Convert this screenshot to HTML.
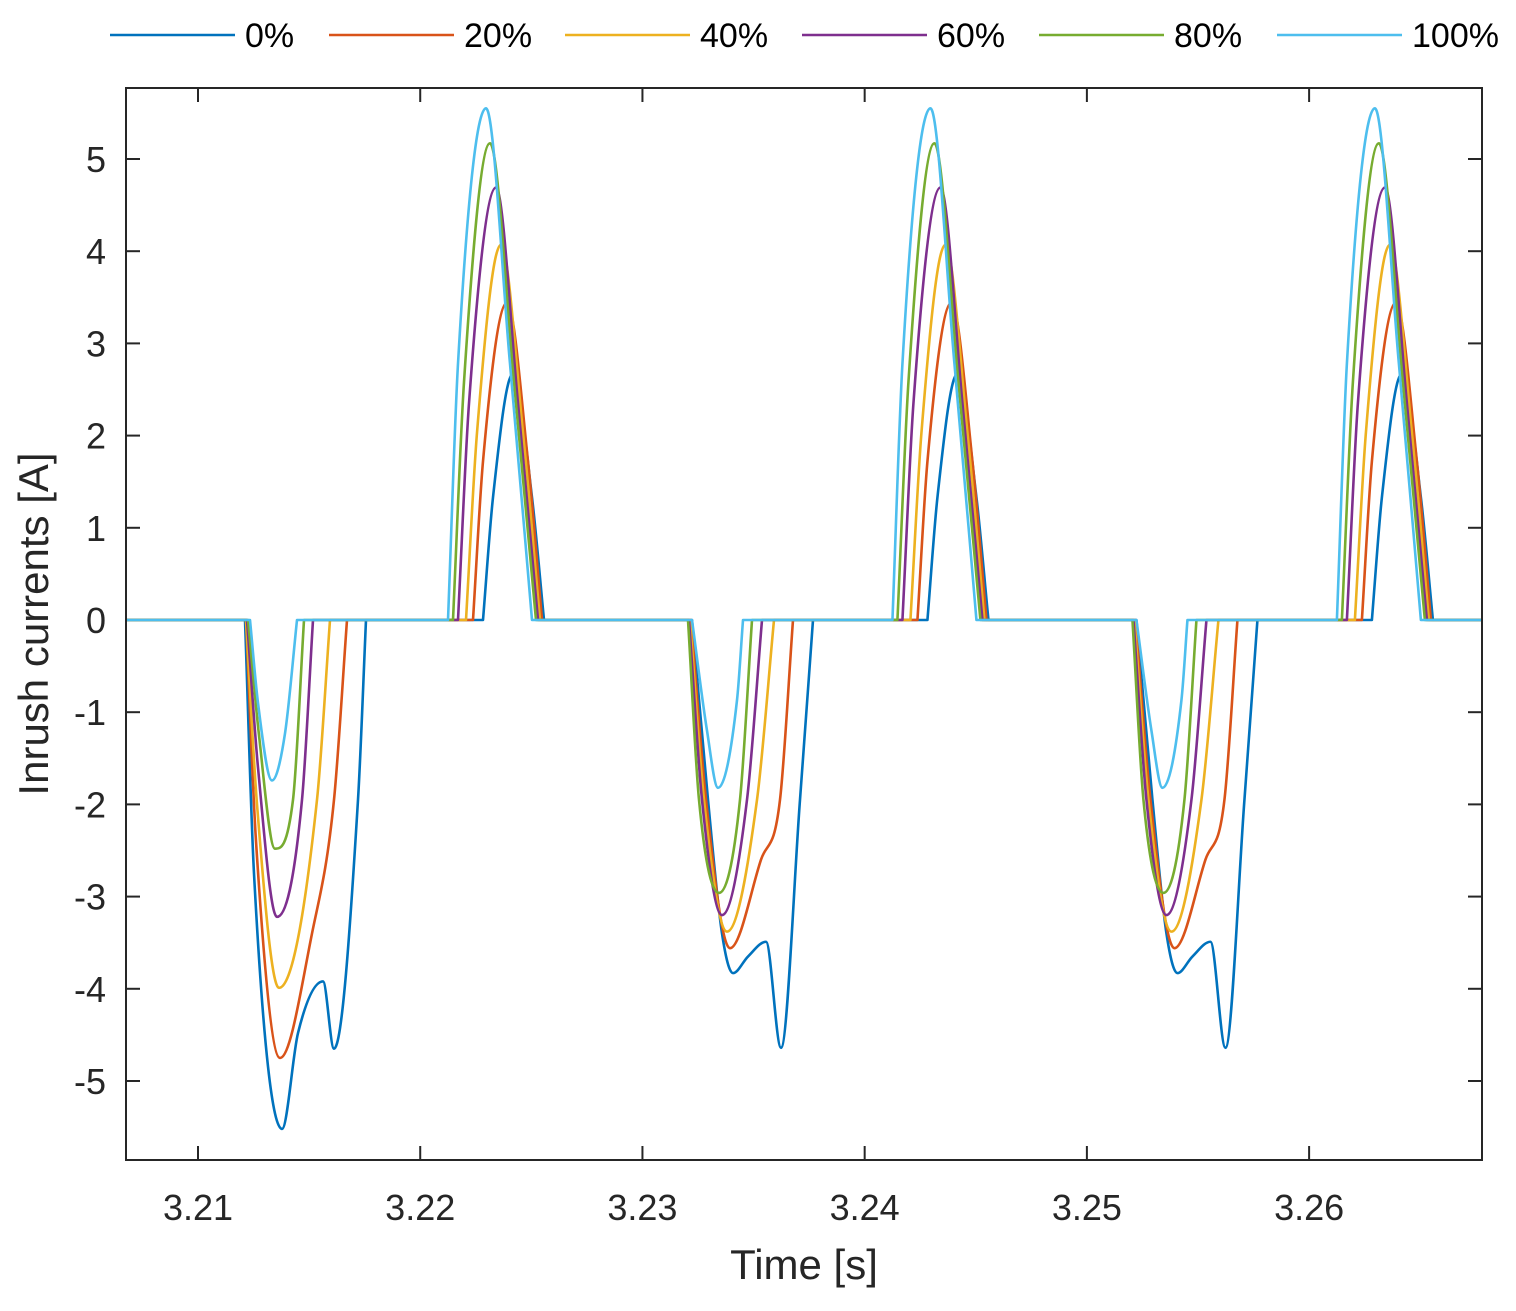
<!DOCTYPE html>
<html><head><meta charset="utf-8"><style>
html,body{margin:0;padding:0;background:#fff;}
svg{display:block;font-family:"Liberation Sans",Arial,sans-serif;}
</style></head><body>
<svg id="chart" width="1516" height="1311" viewBox="0 0 1516 1311"></svg>
<script>
// ---- data ----
const seriesLabels = ["0%","20%","40%","60%","80%","100%"];
const seriesColors = ["#0072BD","#D95319","#EDB120","#7E2F8E","#77AC30","#4DBEEE"];
const yTicks = [-5,-4,-3,-2,-1,0,1,2,3,4,5];
const xTicks = [3.21,3.22,3.23,3.24,3.25,3.26];
const period = 0.02;
// time offsets in ms from 3.21 s, values in A
const neg1T = [
 [2.115,2.52,3.78,4.5,5.625,6.12,7.2,7.56],
 [2.16,2.61,3.69,5.13,6.12,6.705],
 [2.16,2.655,3.645,5.355,5.94],
 [2.205,2.7,3.555,4.68,5.175],
 [2.25,2.745,3.465,4.275,4.77],
 [2.34,2.7,3.33,3.915,4.455]];
const neg1V = [
 [0,-2.75,-5.52,-4.48,-3.92,-4.65,-1.95,0],
 [0,-2.4,-4.75,-3.4,-1.95,0],
 [0,-2.0,-3.99,-1.95,0],
 [0,-1.6,-3.22,-1.95,0],
 [0,-1.25,-2.48,-1.95,0],
 [0,-0.9,-1.74,-1.23,0]];
const neg2T = [
 [22.23,22.95,23.58,24.075,24.75,25.56,26.235,27.09,27.675],
 [22.185,22.86,23.94,25.335,26.19,26.775],
 [22.14,22.77,23.805,25.155,25.92],
 [22.095,22.68,23.58,24.705,25.38],
 [22.05,22.545,23.445,24.39,24.93],
 [22.23,22.905,23.4,24.255,24.525]];
const neg2V = [
 [0,-1.95,-3.4,-3.83,-3.65,-3.49,-4.64,-1.95,0],
 [0,-1.95,-3.56,-2.6,-1.95,0],
 [0,-1.95,-3.38,-1.95,0],
 [0,-1.95,-3.2,-1.95,0],
 [0,-1.95,-2.96,-1.95,0],
 [0,-1.2,-1.82,-0.87,0]];
const posT = [
 [12.825,13.275,14.175,15.03,15.57],
 [12.375,12.825,13.905,14.85,15.48],
 [12.06,12.555,13.635,14.625,15.39],
 [11.7,12.195,13.41,14.4,15.3],
 [11.475,11.97,13.14,14.22,15.21],
 [11.25,11.7,12.96,14.04,15.03]];
const posV = [
 [0,1.33,2.67,1.33,0],
 [0,1.72,3.44,1.72,0],
 [0,2.03,4.07,2.03,0],
 [0,2.35,4.69,2.35,0],
 [0,2.58,5.17,2.58,0],
 [0,2.78,5.55,2.78,0]];

// ---- layout ----
const L=126,R=1482,T=88,B=1160;
const xMin=3.20676,xMax=3.26778,yMin=-5.857,yMax=5.77;
const xs=t=>L+(t-xMin)/(xMax-xMin)*(R-L);
const ys=v=>T+(yMax-v)/(yMax-yMin)*(B-T);
const NS="http://www.w3.org/2000/svg";
const svg=document.getElementById('chart');
function mk(tag,attrs,parent){const e=document.createElementNS(NS,tag);for(const k in attrs)e.setAttribute(k,attrs[k]);(parent||svg).appendChild(e);return e;}

function monoPath(px,py){
 const n=px.length;const d=[],m=[];
 for(let i=0;i<n-1;i++)d.push((py[i+1]-py[i])/(px[i+1]-px[i]));
 m[0]=d[0];m[n-1]=d[n-2];
 for(let i=1;i<n-1;i++){m[i]=(d[i-1]*d[i]<=0)?0:(d[i-1]+d[i])/2;}
 for(let i=0;i<n-1;i++){if(d[i]===0){m[i]=0;m[i+1]=0;continue;}
  const a=m[i]/d[i],b=m[i+1]/d[i],s=a*a+b*b;if(s>9){const tt=3/Math.sqrt(s);m[i]=tt*a*d[i];m[i+1]=tt*b*d[i];}}
 let p="";
 for(let i=0;i<n-1;i++){const h=px[i+1]-px[i];
  p+=" C"+(px[i]+h/3).toFixed(2)+","+(py[i]+m[i]*h/3).toFixed(2)+" "+(px[i+1]-h/3).toFixed(2)+","+(py[i+1]-m[i+1]*h/3).toFixed(2)+" "+px[i+1].toFixed(2)+","+py[i+1].toFixed(2);}
 return p;
}

mk('rect',{x:L,y:T,width:R-L,height:B-T,fill:'#fff',stroke:'none'});
const clip=mk('clipPath',{id:'pc'});mk('rect',{x:L,y:T,width:R-L,height:B-T},clip);

// ticks (drawn beneath series)
for(const v of yTicks){const y=ys(v);
 mk('line',{x1:L,x2:L+14,y1:y,y2:y,stroke:'#262626','stroke-width':2});
 mk('line',{x1:R,x2:R-14,y1:y,y2:y,stroke:'#262626','stroke-width':2});
 const t=mk('text',{x:106,y:y+13,'text-anchor':'end','font-size':36,fill:'#262626'});t.textContent=String(v);
 
 
}
for(const v of xTicks){const x=xs(v);
 mk('line',{x1:x,x2:x,y1:B,y2:B-14,stroke:'#262626','stroke-width':2});
 mk('line',{x1:x,x2:x,y1:T,y2:T+14,stroke:'#262626','stroke-width':2});
 const t=mk('text',{x:x,y:1220,'text-anchor':'middle','font-size':36,fill:'#262626'});t.textContent=v.toFixed(2);
 
 
}

// series
const gS=mk('g',{'clip-path':'url(#pc)'});
for(let s=0;s<6;s++){
 const pulses=[];
 pulses.push([neg1T[s].map(t=>3.21+t/1000),neg1V[s]]);
 for(let k=0;k<2;k++)pulses.push([neg2T[s].map(t=>3.21+t/1000+k*period),neg2V[s]]);
 for(let k=0;k<3;k++)pulses.push([posT[s].map(t=>3.21+t/1000+k*period),posV[s]]);
 pulses.sort((a,b)=>a[0][0]-b[0][0]);
 let d="M"+xs(xMin)+","+ys(0);
 for(const [pt,pv] of pulses){
  const px=pt.map(xs),py=pv.map(ys);
  d+=" L"+px[0].toFixed(2)+","+py[0].toFixed(2)+monoPath(px,py);
 }
 d+=" L"+xs(xMax)+","+ys(0);
 const path=mk('path',{d:d,fill:'none',stroke:seriesColors[s],'stroke-width':2.6,'stroke-linejoin':'round'},gS);
 
 
}

const frame=mk('rect',{x:L,y:T,width:R-L,height:B-T,fill:'none',stroke:'#262626','stroke-width':2});



const xl=mk('text',{x:804,y:1279,'text-anchor':'middle','font-size':42,fill:'#262626'});xl.textContent="Time [s]";


const yl=mk('text',{x:0,y:0,transform:'translate(48,624) rotate(-90)','text-anchor':'middle','font-size':42,fill:'#262626'});yl.textContent="Inrush currents [A]";



const legX=[110,329,565,802,1039,1277];
for(let s=0;s<6;s++){
 const g=mk('g',{});
 
 
 mk('line',{x1:legX[s],x2:legX[s]+125,y1:35,y2:35,stroke:seriesColors[s],'stroke-width':2.6},g);
 const t=mk('text',{x:legX[s]+135,y:47,'font-size':34,fill:'#000'},g);t.textContent=seriesLabels[s];
}
</script>
</body></html>
